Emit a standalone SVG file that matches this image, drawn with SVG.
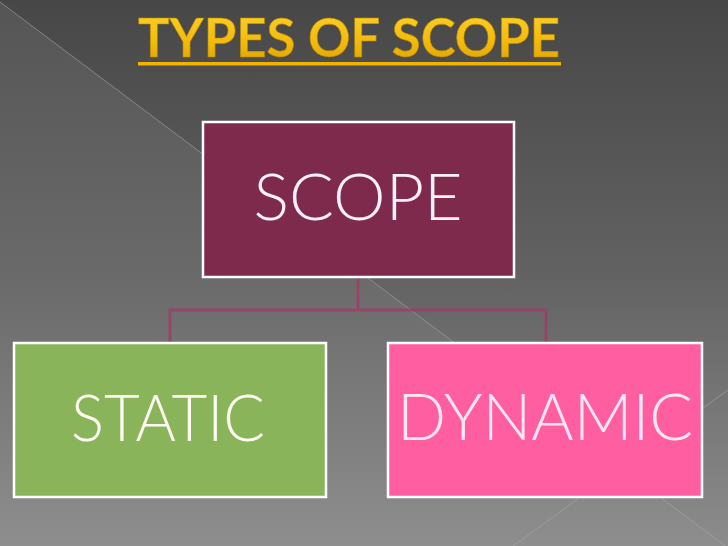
<svg xmlns="http://www.w3.org/2000/svg" width="728" height="546" viewBox="0 0 728 546">
  <defs>
    <linearGradient id="bg" x1="0" y1="0" x2="0" y2="1">
      <stop offset="0" stop-color="#474747"/>
      <stop offset="0.5" stop-color="#626262"/>
      <stop offset="1" stop-color="#8c8c8c"/>
    </linearGradient>
    <linearGradient id="bgL" x1="0" y1="0" x2="0" y2="1">
      <stop offset="0" stop-color="#555555"/>
      <stop offset="0.5" stop-color="#6a6a6a"/>
      <stop offset="1" stop-color="#8e8e8e"/>
    </linearGradient>
    <linearGradient id="gold" x1="0" y1="0" x2="0" y2="1">
      <stop offset="0" stop-color="#ffd52e"/>
      <stop offset="0.6" stop-color="#f2b90a"/>
      <stop offset="1" stop-color="#d99e00"/>
    </linearGradient>
    <style>
      .box { stroke: #ffffff; stroke-width: 2.5; }
      .lbl { font-family: Lato, "Noto Sans", "Liberation Sans", sans-serif; font-weight: 300; font-size: 65px; }
      .conn { fill: none; stroke: #a03a66; stroke-opacity: 0.75; stroke-width: 3; }
      .deco { stroke: #a8a8a8; stroke-opacity: 0.6; stroke-width: 1; fill: none; }
    </style>
  </defs>

  <!-- background -->
  <rect x="0" y="0" width="728" height="546" fill="url(#bg)"/>
  <polygon points="0,2 728,548 0,546" fill="url(#bgL)"/>
  <line class="deco" x1="0" y1="2" x2="728" y2="548"/>
  <line class="deco" x1="728" y1="390" x2="513" y2="546"/>

  <!-- title -->
  <g id="title">
    <text x="349" y="57" text-anchor="middle" font-family="Lato, 'Noto Sans', 'Liberation Sans', sans-serif" font-weight="700" font-size="54" fill="url(#gold)" stroke="#b88800" stroke-width="0.6" textLength="422" lengthAdjust="spacingAndGlyphs">TYPES OF SCOPE</text>
    <rect x="138" y="62" width="423" height="3.5" fill="#f0b400"/>
  </g>

  <!-- connectors -->
  <g id="connectors">
    <path class="conn" d="M358,278 V310 M170,342 V310 H546 V342"/>
  </g>

  <g id="node-scope">
    <rect class="box" x="203" y="122" width="311" height="155" fill="#7d2a4d"/>
    <text class="lbl" x="358" y="220" text-anchor="middle" fill="#fdf0f6" textLength="209" lengthAdjust="spacingAndGlyphs">SCOPE</text>
  </g>

  <g id="node-static">
    <rect class="box" x="14" y="343" width="312" height="154" fill="#8ab45a"/>
    <text class="lbl" x="168" y="441" text-anchor="middle" fill="#fcfcf0" textLength="194" lengthAdjust="spacingAndGlyphs">STATIC</text>
  </g>

  <g id="node-dynamic">
    <rect class="box" x="388" y="343" width="314" height="154" fill="#ff5fa0"/>
    <text class="lbl" x="545" y="440" text-anchor="middle" fill="#ffe6f3" textLength="296" lengthAdjust="spacingAndGlyphs">DYNAMIC</text>
  </g>
</svg>
